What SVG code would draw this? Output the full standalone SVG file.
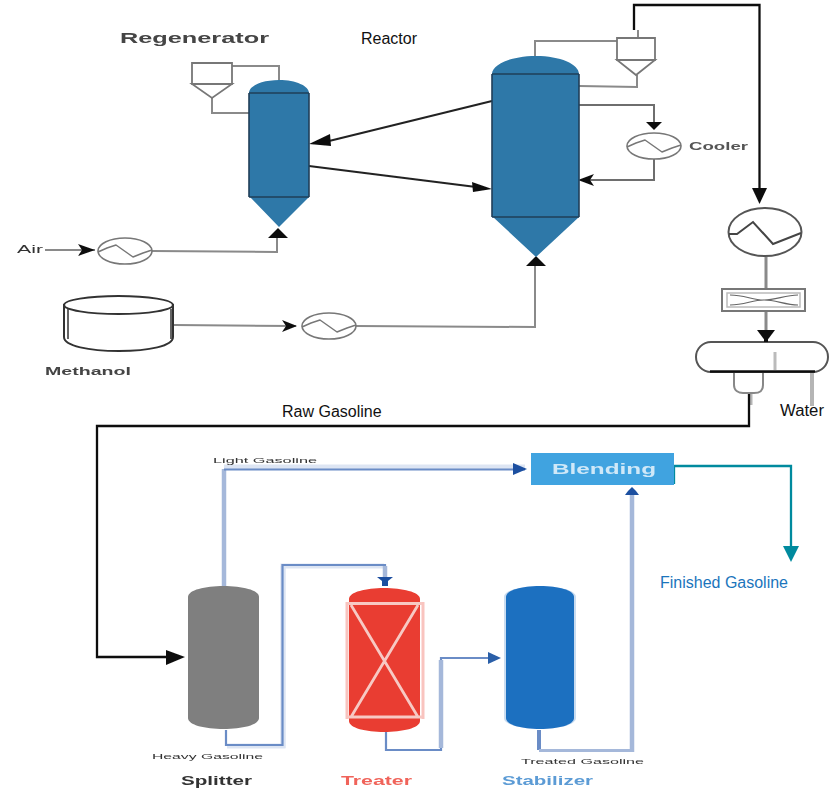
<svg xmlns="http://www.w3.org/2000/svg" width="829" height="788" viewBox="0 0 829 788">
<style>
text{font-family:"Liberation Sans",Arial,sans-serif}
.t{font-size:16px}
.s{filter:url(#b3);fill:#333}
.sb{filter:url(#b2);font-weight:bold}
.g{fill:none;stroke:#8a8a8a;stroke-width:2}
.gd{fill:none;stroke:#6e6e6e;stroke-width:2}
.k{fill:none;stroke:#111;stroke-width:2.3}
.o{fill:#fff;stroke:#777;stroke-width:1.6}
.w{fill:none;stroke:#777;stroke-width:1.5;stroke-linejoin:round}
.vessel{fill:#2e78a8}
.edge{fill:none;stroke:#1f3f58;stroke-width:1.6}
.pl{fill:none;stroke:#a5b8da;stroke-width:4.5}
.pt{fill:none;stroke:#a5b8da;stroke-width:3}
.pd{fill:none;stroke:#6a8cc6;stroke-width:2.2}
.ph{fill:none;stroke:#dde5f3;stroke-width:5}
.soft{filter:url(#b)}
</style>
<defs>
<filter id="b" x="-20%" y="-20%" width="140%" height="140%"><feGaussianBlur stdDeviation="0.7"/></filter>
<filter id="b2" x="-20%" y="-30%" width="140%" height="160%"><feGaussianBlur stdDeviation="0.6"/></filter>
<filter id="b3" x="-20%" y="-50%" width="140%" height="200%"><feGaussianBlur stdDeviation="0.7"/></filter>
<symbol id="hx" viewBox="0 0 56 28" overflow="visible"><ellipse cx="28" cy="14" rx="27" ry="13" class="o"/><path d="M1 15L10 11L19 8L36 20L46 16L55 13" class="w"/></symbol>
</defs>
<rect width="829" height="788" fill="#fff"/>
<g id="connectors">
<g class="soft">
<path class="g" d="M232 66H279V82M212 98V113H249"/>
<path class="g" d="M45 250H95"/>
<path class="g" d="M152 251L277 252V236"/>
<path class="g" d="M174 325L296 326"/>
<path class="g" d="M356 326L535 327V262"/>
<path class="g" d="M535 58V41H617M638 30V38M637 75V87L579 86"/>
<path class="gd" d="M579 105H654V125"/>
<path class="gd" d="M654 158V180H590"/>
<path class="g" d="M766 257V289M766 311V332" style="stroke-width:3"/>
<path d="M812 372V406" style="fill:none;stroke:#b5b5b5;stroke-width:4"/>
<path d="M751 393V405" style="fill:none;stroke:#b5b5b5;stroke-width:3"/>
<path d="M309 166L476 187" style="fill:none;stroke:#222;stroke-width:2.2"/>
<path d="M492 101L325 142" style="fill:none;stroke:#222;stroke-width:2.2"/>
<polygon points="309,144 330,134 331,146" fill="#111"/>
<polygon points="492,189 472,182 473,192" fill="#111"/>
<polygon points="95,250 78,244 82,250 78,256" fill="#111"/>
<polygon points="297,326 282,320 286,326 282,332" fill="#111"/>
<polygon points="278,228 268,238 288,238" fill="#111"/>
<polygon points="536,256 526,266 546,266" fill="#111"/>
<polygon points="654,130 646,122 662,122" fill="#111"/>
<polygon points="578,180 594,174 590,180 594,186" fill="#111"/>
<polygon points="766,342 757,330 775,330" fill="#111"/>
</g>
<g class="soft">
<path class="k" d="M634 30V5H759.500V196"/>
<polygon points="759.500,204 752,188 767,188" fill="#111"/>
<path class="k" d="M749 391V426H97V657H170"/>
<polygon points="185,657 166,650 166,665" fill="#111"/>
<path class="ph" d="M283 748V566"/>
<path class="pl" d="M224 586V469"/>
<path class="ph" d="M224 467H525"/>
<path class="pd" d="M224 469.500H525"/>
<path class="ph" d="M227 746H283V566H384"/>
<path class="pd" d="M226 730V745H282.500V565H385V578"/>
<path class="pl" d="M385 566V578"/>
<path class="pd" d="M386 732V750H441V658H490"/>
<path class="pl" d="M441 660V748"/>
<path class="pl" d="M632 752V492"/>
<path class="pd" d="M539 730V750" style="stroke-width:4"/>
<path class="pt" d="M539 750.500H632"/>
<polygon points="527,469 513,463 513,475" fill="#1c4fa0"/>
<polygon points="501,658 488,652 488,664" fill="#2a5ea8"/>
<polygon points="377,577 393,577 388,581 388,586 382,586 382,581" fill="#1c4fa0"/>
<polygon points="632,487 636,491 639,495 625,495 628,491" fill="#1c4fa0"/>
<path d="M674 484V466H791V548" style="fill:none;stroke:#008a9e;stroke-width:2.300"/>
<polygon points="791,562 783,546 799,546" fill="#008a9e"/>
</g>
</g>
<g id="regenerator" class="soft">
<path class="vessel" d="M249 93V197H250L279 227L309 197V93C309 86 296 80 279 80C262 80 249 86 249 93Z"/>
<path class="edge" d="M249 93H309M249 197H309M249 93V197M309 93V197"/>
</g>
<g id="regenerator-cyclone" class="soft">
<path class="o" d="M192 63H232V84H192ZM192 84H232L212 98Z" style="stroke-width:1.800"/>
</g>
<g id="reactor" class="soft">
<path class="vessel" d="M492 74V217H493L536 257L579 217V74C579 64 560 56 536 56C512 56 492 64 492 74Z"/>
<path class="edge" d="M492 74H579M492 217H579M492 74V217M579 74V217"/>
</g>
<g id="reactor-cyclone" class="soft">
<path class="o" d="M617 38H655V60H617ZM617 60H655L636 75Z" style="stroke-width:1.800"/>
</g>
<g id="air-heater" class="soft"><use href="#hx" x="97" y="237" width="56" height="28"/></g>
<g id="methanol-heater" class="soft"><use href="#hx" x="301" y="312" width="56" height="28"/></g>
<g id="cooler" class="soft"><use href="#hx" x="626" y="132" width="56" height="28"/></g>
<g id="methanol-tank" class="soft">
<path d="M64 305V337C64 346 89 351 119 351C149 351 173 346 173 337V305Z" fill="#fff" stroke="#333" stroke-width="2"/>
<path d="M68 308V339M171 309V339" stroke="#333" stroke-width="1.500" fill="none"/>
<ellipse cx="118.500" cy="305" rx="54.500" ry="9" fill="#fff" stroke="#333" stroke-width="2"/>
</g>
<g id="condenser" class="soft">
<ellipse cx="765" cy="232" rx="36.500" ry="24" fill="#fff" stroke="#555" stroke-width="2"/>
<path d="M729 234H737L753 222L773 244L801 233" fill="none" stroke="#444" stroke-width="2"/>
</g>
<g id="air-cooler" class="soft">
<rect x="722" y="289" width="83" height="22" fill="#fff" stroke="#777" stroke-width="2"/>
<rect x="727" y="293" width="73" height="14" fill="none" stroke="#bbb" stroke-width="1.500"/>
<path d="M730 295C745 295 752 300 764 300C776 300 785 295 798 295M730 305C745 305 752 300 764 300C776 300 785 305 798 305" fill="none" stroke="#666" stroke-width="1.200"/>
</g>
<g id="separator" class="soft">
<path d="M734 372V385C734 391 739 393 743 393H754C760 393 763 391 763 385V372" fill="#fff" stroke="#888" stroke-width="2"/>
<rect x="696" y="342" width="132" height="30" rx="15" fill="#fff" stroke="#555" stroke-width="2"/>
<path d="M710 371.500H815" stroke="#111" stroke-width="2.300" fill="none"/>
<path d="M775 352V370" stroke="#bbb" stroke-width="3" fill="none"/>
<path d="M766 332V342" stroke="#111" stroke-width="4" fill="none"/>
</g>
<g id="splitter" class="soft">
<path d="M188 597C188 590 205 586 223.500 586C242 586 259 590 259 597V718C259 725 242 729 223.500 729C205 729 188 725 188 718Z" fill="#7f7f7f"/>
</g>
<g id="treater" class="soft">
<path d="M349 599C349 592 366 588 384 588C402 588 420 592 420 599V721C420 728 402 732 384 732C366 732 349 728 349 721Z" fill="#e93c30"/>
<path d="M347 602V719M423 602V719" stroke="#f9c4bf" stroke-width="3" fill="none"/>
<path d="M348 603.500H422M348 717H422M351 605L418 717M418 605L351 717" stroke="#f7c9c4" stroke-width="2.800" fill="none"/>
</g>
<g id="stabilizer" class="soft">
<path d="M504 597C504 590 522 586 540 586C558 586 576 590 576 597V718C576 725 558 729 540 729C522 729 504 725 504 718Z" fill="#c9dcf0"/>
<path d="M506 597C506 590 522 586 540 586C558 586 574 590 574 597V718C574 725 558 729 540 729C522 729 506 725 506 718Z" fill="#1e6fc0"/>
</g>
<g id="blending" class="soft">
<rect x="531" y="453" width="143" height="32" fill="#3fa3e0"/>
</g>
<g id="labels">
<text x="361" y="44" class="t" fill="#111">Reactor</text>
<text x="282" y="417" class="t" fill="#111">Raw Gasoline</text>
<text x="780" y="416" class="t" fill="#111" textLength="44" lengthAdjust="spacingAndGlyphs">Water</text>
<text x="660" y="588" class="t" fill="#1b75bc" textLength="128" lengthAdjust="spacingAndGlyphs">Finished Gasoline</text>
<text x="120" y="43" class="sb" fill="#444" font-size="15" textLength="149" lengthAdjust="spacingAndGlyphs">Regenerator</text>
<text x="17" y="253" class="s" font-size="10" textLength="26" lengthAdjust="spacingAndGlyphs">Air</text>
<text x="45" y="375" class="sb" fill="#444" font-size="11" textLength="86" lengthAdjust="spacingAndGlyphs">Methanol</text>
<text x="689" y="150" class="sb" fill="#555" font-size="11" textLength="59" lengthAdjust="spacingAndGlyphs">Cooler</text>
<text x="213" y="463" class="s" font-size="8" textLength="104" lengthAdjust="spacingAndGlyphs">Light Gasoline</text>
<text x="152" y="759" class="s" font-size="8" textLength="111" lengthAdjust="spacingAndGlyphs">Heavy Gasoline</text>
<text x="521" y="764" class="s" font-size="8" textLength="123" lengthAdjust="spacingAndGlyphs">Treated Gasoline</text>
<text x="181" y="785" class="sb" fill="#333" font-size="12" textLength="71" lengthAdjust="spacingAndGlyphs">Splitter</text>
<text x="341" y="785" class="sb" fill="#f0645a" font-size="12" textLength="71" lengthAdjust="spacingAndGlyphs">Treater</text>
<text x="502" y="785" class="sb" fill="#5b9bd5" font-size="12" textLength="91" lengthAdjust="spacingAndGlyphs">Stabilizer</text>
<text x="552" y="474" class="sb" fill="#cfe8f8" font-size="14" textLength="104" lengthAdjust="spacingAndGlyphs">Blending</text>
</g>
</svg>
